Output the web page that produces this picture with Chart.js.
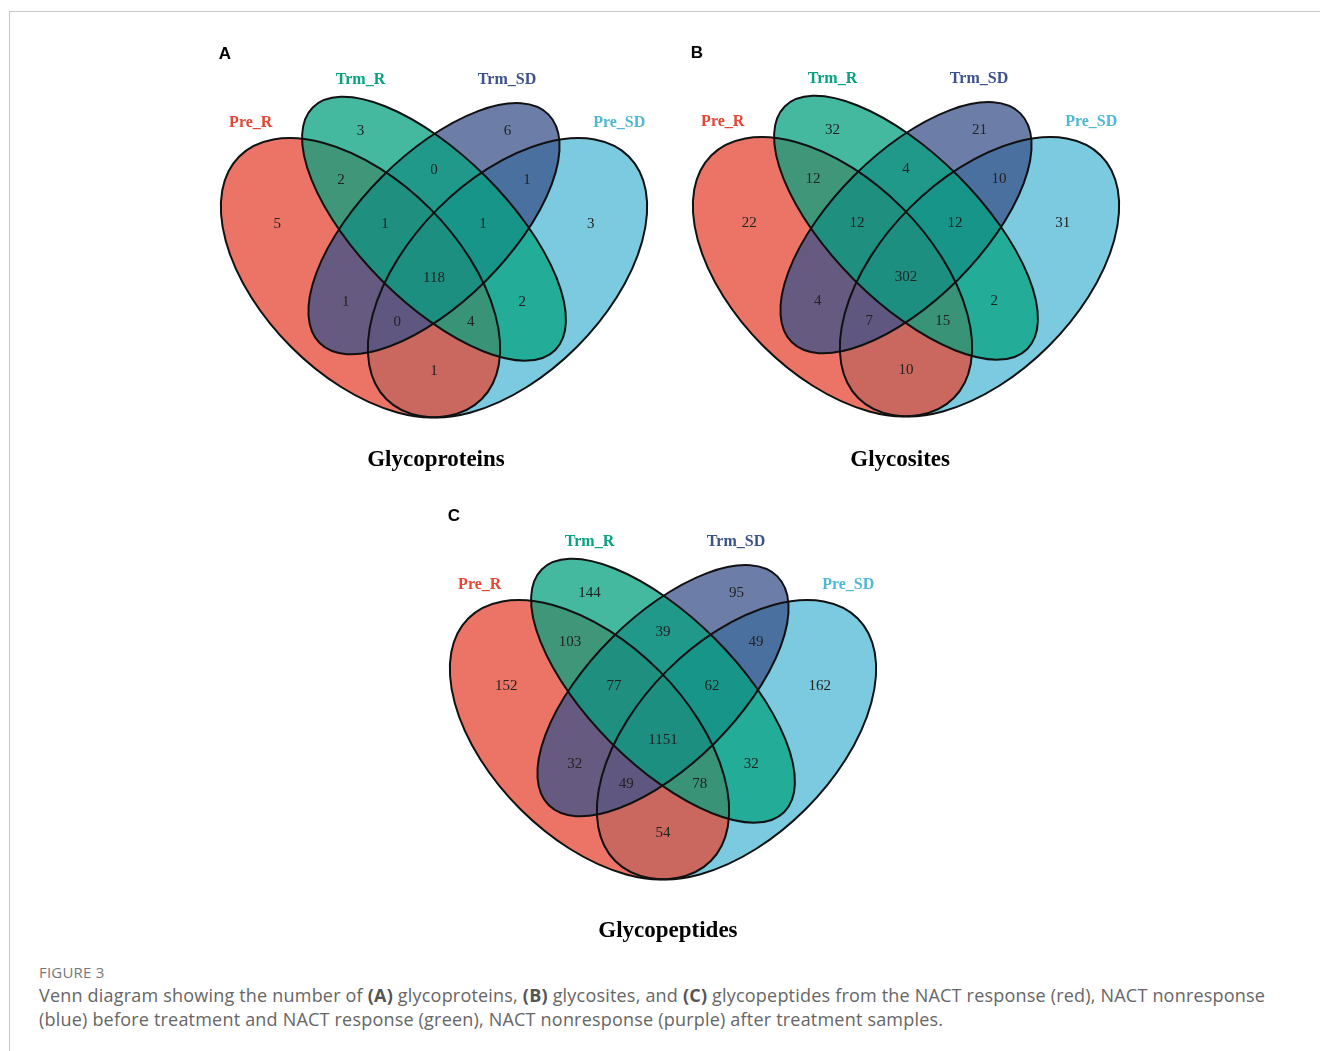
<!DOCTYPE html>
<html>
<head>
<meta charset="utf-8">
<script src="https://cdn.jsdelivr.net/npm/chart.js@4.4.0/dist/chart.umd.min.js"></script>
<style>
  body { margin: 0; background: #fff; }
  .page { position: relative; width: 1320px; height: 1051px; overflow: hidden; }
  .frame { position: absolute; left: 9px; top: 11px; right: -2px; bottom: -2px;
           border-left: 1px solid #c8c8c8; border-top: 1px solid #c8c8c8; }
  canvas { position: absolute; }
  .fig { position: absolute; left: 39px; top: 962px; font: 15px "Open Sans", sans-serif; color: #777; letter-spacing: 0.2px; }
  .text { position: absolute; left: 39px; top: 983px; font: 18px/24px "Open Sans", sans-serif; color: #666; white-space: nowrap; letter-spacing: 0.2px; }
  .text b { color: #555; }
</style>
</head>
<body>
<div class="page">
  <div class="frame"></div>
  <canvas id="vennA" width="490" height="490" style="left:189px;top:18px"></canvas>
  <canvas id="vennB" width="490" height="490" style="left:661px;top:17px"></canvas>
  <canvas id="vennC" width="490" height="490" style="left:418px;top:480px"></canvas>
  <div class="fig">FIGURE 3</div>
  <div class="text">Venn diagram showing the number of <b>(A)</b> glycoproteins, <b>(B)</b> glycosites, and <b>(C)</b> glycopeptides from the NACT response (red), NACT nonresponse<br>(blue) before treatment and NACT response (green), NACT nonresponse (purple) after treatment samples.</div>
</div>
<script>
// sets and their colours
var setNames = ['Pre_R', 'Trm_R', 'Trm_SD', 'Pre_SD'];
var setColors = ['#E64633', '#07A280', '#3B528B', '#4FB8D4'];

// counts per region, order:
// Trm_R, Trm_R&Trm_SD, Trm_SD, Pre_R&Trm_R, Pre_R&Trm_R&Trm_SD, all four, Trm_R&Trm_SD&Pre_SD, Trm_SD&Pre_SD,
// Pre_R, Pre_R&Trm_SD, Pre_R&Trm_SD&Pre_SD, Pre_R&Pre_SD, Pre_R&Trm_R&Pre_SD, Trm_R&Pre_SD, Pre_SD
var glycoproteins = [3, 0, 6, 2, 1, 118, 1, 1, 5, 1, 0, 1, 4, 2, 3];
var glycosites    = [32, 4, 21, 12, 12, 302, 12, 10, 22, 4, 7, 10, 15, 2, 31];
var glycopeptides = [144, 39, 95, 103, 77, 1151, 62, 49, 152, 32, 49, 54, 78, 32, 162];

var panelLetters = ['A', 'B', 'C'];
var panelTitles = ['Glycoproteins', 'Glycosites', 'Glycopeptides'];

// layout of the 4-set venn template (unit square)
var regionAnchors = [
  [0.350, 0.770], [0.500, 0.690], [0.650, 0.770], [0.310, 0.670], [0.400, 0.580],
  [0.500, 0.470], [0.600, 0.580], [0.690, 0.670], [0.180, 0.580], [0.320, 0.420],
  [0.425, 0.380], [0.500, 0.280], [0.575, 0.380], [0.680, 0.420], [0.820, 0.580]
];
var setLabelAnchors = [[0.126, 0.786], [0.350, 0.874], [0.649, 0.874], [0.878, 0.786]];
// drawing order matters for the overlap colours
var ellipses = [
  { set: 'Pre_SD', cx: 0.65, cy: 0.47, a: 0.35, b: 0.20, rot: 45 },
  { set: 'Pre_R',  cx: 0.35, cy: 0.47, a: 0.35, b: 0.20, rot: 135 },
  { set: 'Trm_SD', cx: 0.50, cy: 0.57, a: 0.33, b: 0.15, rot: 45 },
  { set: 'Trm_R',  cx: 0.50, cy: 0.57, a: 0.35, b: 0.15, rot: 135 }
];
var titlePos = [[0.504, 0.098], [0.488, 0.096], [0.510, 0.080]];

function traceEllipse(ctx, xs, ys, e) {
  var sx = xs.getPixelForValue(1) - xs.getPixelForValue(0);
  var sy = ys.getPixelForValue(0) - ys.getPixelForValue(1);
  ctx.beginPath();
  ctx.ellipse(xs.getPixelForValue(e.cx), ys.getPixelForValue(e.cy), e.a * sx, e.b * sy,
              -e.rot * Math.PI / 180, 0, 2 * Math.PI);
}

var vennPlugin = {
  id: 'venn',
  beforeDatasetsDraw: function(chart, args, opts) {
    var ctx = chart.ctx, xs = chart.scales.x, ys = chart.scales.y;
    ctx.save();
    ctx.globalAlpha = 0.75;
    ellipses.forEach(function(e) {
      traceEllipse(ctx, xs, ys, e);
      ctx.fillStyle = setColors[setNames.indexOf(e.set)];
      ctx.fill();
    });
    ctx.globalAlpha = 1;
    ctx.lineWidth = 2;
    ctx.strokeStyle = '#111';
    ellipses.forEach(function(e) {
      traceEllipse(ctx, xs, ys, e);
      ctx.stroke();
    });
    ctx.restore();
  },
  afterDatasetsDraw: function(chart, args, opts) {
    var ctx = chart.ctx, xs = chart.scales.x, ys = chart.scales.y;
    ctx.save();
    ctx.textAlign = 'center';
    ctx.textBaseline = 'middle';
    // region counts
    ctx.fillStyle = '#222';
    ctx.font = '15px "Liberation Serif", "Times New Roman", serif';
    chart.getDatasetMeta(0).data.forEach(function(pt, i) {
      ctx.fillText(String(chart.data.datasets[0].data[i].v), pt.x, pt.y);
    });
    // set names
    ctx.font = 'bold 16px "Liberation Serif", "Times New Roman", serif';
    chart.getDatasetMeta(1).data.forEach(function(pt, i) {
      ctx.fillStyle = setColors[i];
      ctx.fillText(setNames[i], pt.x, pt.y);
    });
    // panel letter and title
    ctx.fillStyle = '#000';
    ctx.font = 'bold 17px "Liberation Sans", Arial, sans-serif';
    ctx.fillText(opts.letter, xs.getPixelForValue(0.073), ys.getPixelForValue(0.926));
    ctx.font = 'bold 23px "Liberation Serif", "Times New Roman", serif';
    ctx.fillText(opts.title, xs.getPixelForValue(opts.titleX), ys.getPixelForValue(opts.titleY));
    ctx.restore();
  }
};

function makeVenn(id, counts, k) {
  var ctx = document.getElementById(id).getContext('2d');
  return new Chart(ctx, {
    type: 'scatter',
    data: {
      datasets: [{
        label: 'counts',
        data: counts.map(function(v, i) { return { x: regionAnchors[i][0], y: regionAnchors[i][1], v: v }; }),
        pointRadius: 0
      }, {
        label: 'sets',
        data: setNames.map(function(s, i) { return { x: setLabelAnchors[i][0], y: setLabelAnchors[i][1] }; }),
        pointRadius: 0
      }]
    },
    options: {
      responsive: false,
      animation: false,
      events: [],
      layout: { padding: 0 },
      scales: {
        x: { type: 'linear', min: 0, max: 1, display: false },
        y: { type: 'linear', min: 0, max: 1, display: false }
      },
      plugins: {
        legend: { display: false },
        tooltip: { enabled: false },
        venn: { letter: panelLetters[k], title: panelTitles[k], titleX: titlePos[k][0], titleY: titlePos[k][1] }
      }
    },
    plugins: [vennPlugin]
  });
}

makeVenn('vennA', glycoproteins, 0);
makeVenn('vennB', glycosites, 1);
makeVenn('vennC', glycopeptides, 2);
</script>
</body>
</html>
